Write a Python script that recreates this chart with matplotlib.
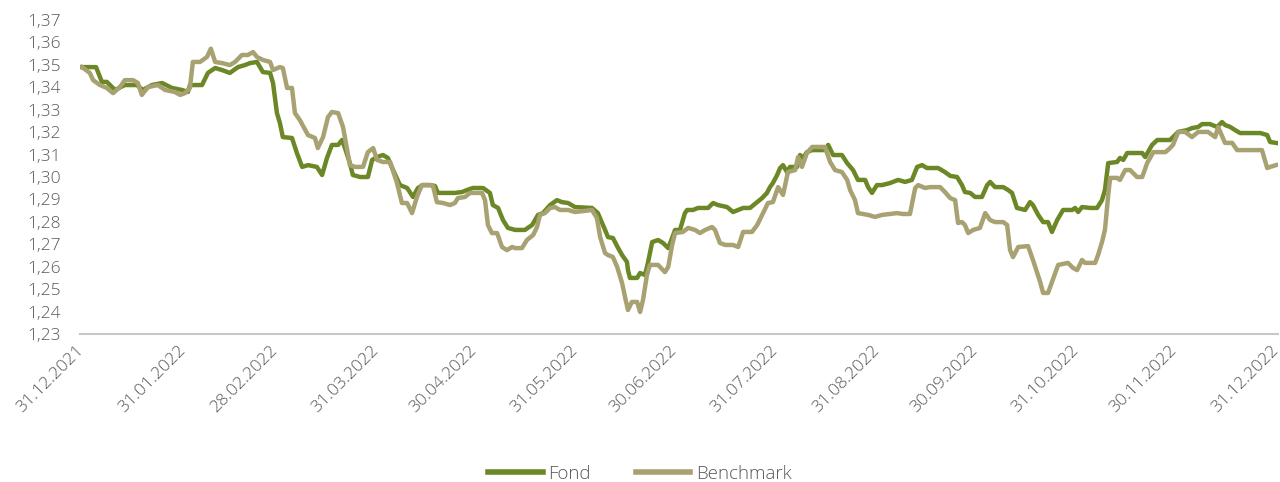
import matplotlib
matplotlib.use("Agg")
import matplotlib.pyplot as plt
import matplotlib.transforms as mtransforms
from matplotlib.ticker import FuncFormatter
import pandas as pd

plt.rcParams['font.family'] = ['Open Sans', 'DejaVu Sans']
plt.rcParams['font.weight'] = 'light'

start_date = "2021-12-31"

# Fond: (day offset from 31.12.2021, value)
fond_days = [0, 4.3, 6.1, 7.6, 10.1, 13.1, 16.8, 18.6, 21.4, 24.5, 27.5, 30.6, 32.4, 33, 36.7, 38.5,
             40.7, 42.8, 45.2, 47.7, 49.8, 51.4, 53.5, 55.3, 57.5, 58.4, 59.6, 60.5, 61.4, 64.2, 65.7,
             67.3, 69.1, 71.8, 73.4, 74.9, 76.4, 78.3, 79.5, 80.4, 81.9, 82.8, 85, 87.4, 88.7, 90.2,
             92, 93.5, 95.1, 97.2, 99.4, 101.2, 102.7, 104.2, 106.4, 107.9, 108.8, 114, 116.2, 117.7,
             119.5, 122.6, 124.7, 125.6, 127.2, 128.7, 130.2, 132.4, 135.4, 137.6, 139.4, 140.9, 143.1,
             145.2, 146.7, 148.6, 150.7, 155.9, 157.7, 159.9, 160.8, 162.3, 163.9, 165.1, 166.6, 166.9,
             167.5, 169.7, 170.6, 172.1, 173, 174.3, 176.1, 177.6, 179.2, 180.4, 181.3, 182.8, 184.3,
             185, 186.8, 188.3, 191.4, 192.9, 194.4, 197.2, 199, 200.6, 202.1, 204.2, 206.4, 207.9,
             209.4, 210.3, 211.2, 212.5, 213.4, 214.3, 215.5, 216.4, 218.6, 219.5, 220.4, 221.6, 223.2,
             227.1, 228.1, 229.6, 232.3, 233.9, 235.7, 237.2, 239.4, 240.3, 241.5, 243, 244.6, 247,
             249.5, 251.6, 253.7, 255.3, 256.8, 258.3, 261.7, 263.8, 265.4, 267.5, 269, 269.9, 271.5,
             273, 275.1, 276.7, 277.6, 279.1, 281.6, 283.1, 284.3, 285.8, 288.3, 289.8, 290.7, 292.3,
             293.8, 295.3, 296.5, 298.1, 299.9, 302.7, 303.6, 304.5, 305.7, 308.2, 310.3, 311.8, 312.7,
             313.7, 316.4, 317.3, 318.3, 319.5, 324.1, 325, 327.1, 328.7, 332.6, 333.5, 335.1, 337.8,
             339.3, 341.2, 342.4, 344.8, 347, 348.5, 349.4, 351, 352.5, 354, 360.2, 362.3, 363.2, 365]
fond_vals = [1.3490, 1.3490, 1.3424, 1.3424, 1.3388, 1.3410, 1.3410, 1.3388, 1.3410, 1.3419, 1.3397,
             1.3388, 1.3379, 1.3410, 1.3410, 1.3464, 1.3486, 1.3477, 1.3464, 1.3490, 1.3499, 1.3508,
             1.3513, 1.3468, 1.3464, 1.3419, 1.3285, 1.3241, 1.3178, 1.3174, 1.3107, 1.3045, 1.3053,
             1.3045, 1.3009, 1.3085, 1.3143, 1.3143, 1.3165, 1.3129, 1.3062, 1.3009, 1.3000, 1.3000,
             1.3076, 1.3089, 1.3098, 1.3085, 1.3031, 1.2964, 1.2951, 1.2911, 1.2951, 1.2964, 1.2964,
             1.2960, 1.2929, 1.2929, 1.2933, 1.2942, 1.2951, 1.2951, 1.2929, 1.2875, 1.2862, 1.2808,
             1.2773, 1.2764, 1.2764, 1.2786, 1.2831, 1.2839, 1.2875, 1.2897, 1.2888, 1.2884, 1.2866,
             1.2862, 1.2839, 1.2764, 1.2732, 1.2728, 1.2683, 1.2652, 1.2621, 1.2585, 1.2550, 1.2550,
             1.2572, 1.2563, 1.2617, 1.2710, 1.2719, 1.2706, 1.2683, 1.2728, 1.2764, 1.2764, 1.2839,
             1.2853, 1.2853, 1.2862, 1.2862, 1.2884, 1.2875, 1.2866, 1.2844, 1.2853, 1.2862, 1.2862,
             1.2888, 1.2906, 1.2929, 1.2955, 1.2973, 1.3009, 1.3040, 1.3053, 1.3022, 1.3045, 1.3045,
             1.3098, 1.3085, 1.3111, 1.3120, 1.3120, 1.3143, 1.3098, 1.3098, 1.3062, 1.3031, 1.2987,
             1.2987, 1.2955, 1.2929, 1.2964, 1.2964, 1.2973, 1.2987, 1.2978, 1.2987, 1.3045, 1.3053,
             1.3040, 1.3040, 1.3022, 1.3005, 1.3000, 1.2964, 1.2933, 1.2929, 1.2911, 1.2911, 1.2964,
             1.2978, 1.2955, 1.2955, 1.2942, 1.2929, 1.2862, 1.2853, 1.2888, 1.2875, 1.2831, 1.2799,
             1.2799, 1.2755, 1.2808, 1.2853, 1.2853, 1.2862, 1.2844, 1.2866, 1.2862, 1.2862, 1.2897,
             1.2942, 1.3062, 1.3067, 1.3085, 1.3076, 1.3107, 1.3107, 1.3089, 1.3143, 1.3165, 1.3165,
             1.3178, 1.3201, 1.3209, 1.3218, 1.3223, 1.3236, 1.3236, 1.3223, 1.3245, 1.3232, 1.3223,
             1.3209, 1.3196, 1.3196, 1.3187, 1.3156, 1.3152]

# Benchmark: (day offset from 31.12.2021, value)
bench_days = [0, 2.4, 3.4, 5.5, 7.6, 9.5, 11.6, 13.1, 15.6, 17.1, 18.3, 20.2, 23.2, 25.4, 28.4, 30,
              31.5, 33, 33.9, 36.1, 38.2, 39.4, 40.7, 42.8, 45.2, 46.8, 48.9, 50.7, 52.3, 53.5, 55.3,
              57.5, 58.4, 60.5, 61.4, 62.7, 64.2, 65.1, 66.6, 69.1, 71.2, 72.1, 73.7, 75.2, 76.4, 78.3,
              79.8, 81.9, 83.5, 85.9, 87.4, 89, 90.2, 92, 94.2, 96.3, 97.8, 99.4, 100.9, 102.4, 103.9,
              106.4, 107.3, 108.5, 110.4, 112.5, 114, 114.9, 117.1, 118.6, 122.3, 123.2, 124.1, 125.3,
              126.9, 128.4, 129.9, 131.5, 132.4, 134.5, 136, 137.9, 139.1, 140, 141.5, 143.1, 144.6,
              146.1, 148.6, 150.7, 153.2, 155.9, 157.4, 158.4, 159.9, 160.8, 162.3, 163.6, 165.1, 166,
              166.9, 168.1, 169.7, 170.6, 171.5, 172.7, 173.6, 176.1, 178.2, 179.2, 180.4, 181.3, 183.7,
              185.3, 187.4, 188.9, 190.5, 192.6, 193.5, 195, 196.6, 199, 200.6, 202.1, 204.8, 206.4,
              208.2, 209.7, 211.2, 212.8, 214.3, 215.8, 218, 218.9, 220.1, 221.6, 223.2, 227.1, 228.7,
              230.2, 232.3, 233.9, 234.8, 236.3, 237.2, 240.3, 242.4, 244.6, 247, 249.2, 251, 253.1,
              254.7, 255.6, 257.7, 259.2, 262.3, 263.8, 265.4, 266.9, 267.8, 269, 269.9, 270.9, 272.4,
              274.5, 276.1, 277.6, 279.1, 281.6, 282.8, 283.7, 284.6, 286.2, 289.2, 290.7, 292.9, 293.8,
              295.3, 297.5, 298.4, 301.4, 303, 304.2, 305.7, 306.6, 309.7, 310.6, 311.8, 312.7, 313.7,
              314.3, 316.4, 317.3, 318.9, 320.4, 321.3, 322.5, 324.1, 325.6, 327.5, 331.2, 332.6, 333.5,
              335.1, 337.2, 339.3, 341.2, 344.2, 346.4, 347.3, 349.4, 351.6, 353.1, 355, 360.7, 362.3,
              363.2, 365]
bench_vals = [1.3490, 1.3464, 1.3432, 1.3410, 1.3397, 1.3374, 1.3401, 1.3432, 1.3432, 1.3419, 1.3366,
              1.3401, 1.3410, 1.3388, 1.3379, 1.3366, 1.3374, 1.3397, 1.3513, 1.3513, 1.3535, 1.3572,
              1.3513, 1.3508, 1.3499, 1.3513, 1.3544, 1.3544, 1.3557, 1.3535, 1.3522, 1.3513, 1.3477,
              1.3490, 1.3486, 1.3397, 1.3397, 1.3285, 1.3254, 1.3187, 1.3174, 1.3129, 1.3178, 1.3267,
              1.3290, 1.3285, 1.3223, 1.3053, 1.3045, 1.3045, 1.3111, 1.3129, 1.3076, 1.3067, 1.3067,
              1.2973, 1.2884, 1.2884, 1.2839, 1.2911, 1.2964, 1.2964, 1.2960, 1.2888, 1.2884, 1.2875,
              1.2884, 1.2906, 1.2911, 1.2929, 1.2929, 1.2897, 1.2786, 1.2750, 1.2750, 1.2688, 1.2674,
              1.2688, 1.2683, 1.2683, 1.2719, 1.2741, 1.2777, 1.2831, 1.2839, 1.2862, 1.2866, 1.2853,
              1.2853, 1.2844, 1.2848, 1.2853, 1.2817, 1.2732, 1.2661, 1.2652, 1.2643, 1.2599, 1.2527,
              1.2465, 1.2407, 1.2443, 1.2443, 1.2398, 1.2452, 1.2563, 1.2608, 1.2608, 1.2576, 1.2599,
              1.2697, 1.2750, 1.2755, 1.2773, 1.2764, 1.2750, 1.2764, 1.2777, 1.2764, 1.2706, 1.2697,
              1.2697, 1.2688, 1.2755, 1.2755, 1.2786, 1.2839, 1.2884, 1.2888, 1.2955, 1.2920, 1.3022,
              1.3031, 1.3089, 1.3045, 1.3107, 1.3134, 1.3134, 1.3067, 1.3031, 1.3022, 1.2987, 1.2942,
              1.2897, 1.2839, 1.2831, 1.2822, 1.2831, 1.2835, 1.2839, 1.2835, 1.2835, 1.2951, 1.2964,
              1.2951, 1.2955, 1.2955, 1.2933, 1.2906, 1.2897, 1.2795, 1.2799, 1.2786, 1.2750, 1.2764,
              1.2773, 1.2839, 1.2808, 1.2799, 1.2799, 1.2786, 1.2674, 1.2643, 1.2688, 1.2692, 1.2630,
              1.2532, 1.2483, 1.2483, 1.2572, 1.2608, 1.2617, 1.2594, 1.2585, 1.2630, 1.2617, 1.2617,
              1.2652, 1.2710, 1.2764, 1.2920, 1.2996, 1.2996, 1.2987, 1.3031, 1.3031, 1.3018, 1.3000,
              1.3000, 1.3062, 1.3111, 1.3111, 1.3129, 1.3143, 1.3201, 1.3201, 1.3178, 1.3201, 1.3201,
              1.3178, 1.3223, 1.3152, 1.3152, 1.3120, 1.3120, 1.3120, 1.3040, 1.3045, 1.3053]

series_names = ["Fond", "Benchmark"]
tick_labels = ["31.12.2021", "31.01.2022", "28.02.2022", "31.03.2022", "30.04.2022", "31.05.2022",
               "30.06.2022", "31.07.2022", "31.08.2022", "30.09.2022", "31.10.2022", "30.11.2022",
               "31.12.2022"]
y_min, y_max, y_step = 1.23, 1.37, 0.01

base = pd.Timestamp(start_date)
fond_x = base + pd.to_timedelta(fond_days, unit="D")
bench_x = base + pd.to_timedelta(bench_days, unit="D")
tick_x = pd.to_datetime(tick_labels, format="%d.%m.%Y")

fig = plt.figure(figsize=(12.8, 4.82), dpi=100)
ax = fig.add_axes([80 / 1280, (482 - 334) / 482, 1198 / 1280, 314 / 482])

c_fond = "#6C8826"
c_bench = "#A8A171"
ax.plot(fond_x, fond_vals, color=c_fond, lw=3.2, label=series_names[0], solid_joinstyle="round")
ax.plot(bench_x, bench_vals, color=c_bench, lw=3.2, label=series_names[1], solid_joinstyle="round")

ax.set_ylim(y_min, y_max)
ax.set_xlim(base - pd.Timedelta(days=0.6), tick_x[-1] + pd.Timedelta(days=0.6))
yt = [round(y_min + i * y_step, 2) for i in range(int(round((y_max - y_min) / y_step)) + 1)]
ax.set_yticks(yt)
ax.yaxis.set_major_formatter(FuncFormatter(lambda v, p: f"{v:.2f}".replace(".", ",")))
ax.set_xticks(tick_x)
ax.set_xticklabels(tick_labels, rotation=45, ha="right", va="center", rotation_mode="anchor")
offset = mtransforms.ScaledTranslation(-3 / 100, 0, fig.dpi_scale_trans)
for lbl in ax.get_xticklabels():
    lbl.set_transform(lbl.get_transform() + offset)

for s in ["top", "right", "left"]:
    ax.spines[s].set_visible(False)
ax.spines["bottom"].set_color("#C8C8C8")
ax.spines["bottom"].set_linewidth(1.5)
ax.tick_params(axis="both", length=0, colors="#595959", labelsize=12.5)
ax.tick_params(axis="y", pad=14)
ax.tick_params(axis="x", pad=10)

leg = fig.legend(loc="center", bbox_to_anchor=(640 / 1280, 1 - 474 / 482), ncol=2, frameon=False,
                 fontsize=13.5, handlelength=2.9, handletextpad=0.3, columnspacing=2.4)
for t in leg.get_texts():
    t.set_color("#595959")
for l in leg.get_lines():
    l.set_linewidth(4)

fig.savefig("out.png", dpi=100)
